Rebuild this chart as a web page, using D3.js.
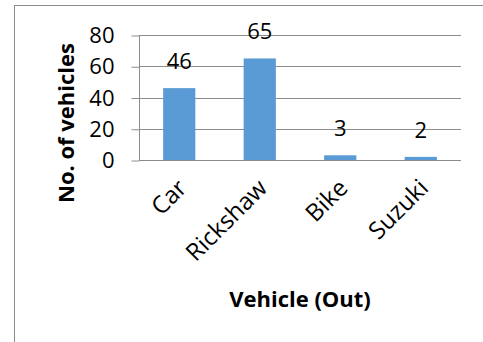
<!DOCTYPE html>
<html><head><meta charset="utf-8">
<script src="https://cdn.jsdelivr.net/npm/d3@7"></script>
<style>body{margin:0;background:#fff}svg{display:block}text{font-family:"Open Sans",sans-serif;fill:#000}</style>
</head><body><svg id="c" width="483" height="342"></svg>
<script>
const categories = ["Car", "Rickshaw", "Bike", "Suzuki"];
const values = [46, 65, 3, 2];
const yTicks = [0, 20, 40, 60, 80];
const yTitle = "No. of vehicles";
const xTitle = "Vehicle (Out)";

const svg = d3.select("#c");
svg.append("rect").attr("x", 14.5).attr("y", 5.5).attr("width", 600).attr("height", 600)
  .attr("fill", "#fff").attr("stroke", "#8c8c8c").attr("stroke-width", 1);

const L = 139, R = 461, T = 35, B = 160;
const FS = 22;
const x = d3.scaleBand().domain(categories).range([L, R]).paddingInner(0.6).paddingOuter(0.3);
const y = d3.scaleLinear().domain([0, 80]).range([B, T]);

// gridlines
svg.append("g").selectAll("line").data(yTicks.filter(d => d > 0)).join("line")
  .attr("x1", L).attr("x2", R).attr("y1", d => Math.round(y(d)) + 0.5).attr("y2", d => Math.round(y(d)) + 0.5)
  .attr("stroke", "#8c8c8c").attr("stroke-width", 1);

// y axis
const ya = svg.append("g").attr("transform", `translate(${L + 0.5},0)`)
  .call(d3.axisLeft(y).tickValues(yTicks).tickSize(8).tickPadding(17).tickFormat(d3.format("d")));
ya.selectAll("path,line").attr("stroke", "#8c8c8c");
ya.select(".domain").attr("d", `M0,${T}V${B}`);
ya.selectAll(".tick line").attr("transform", "translate(0,0.5)");
ya.selectAll("text").attr("font-size", FS).attr("font-family", "Open Sans").attr("fill", "#000").attr("dy", "0.35em");

// bars
svg.append("g").selectAll("rect").data(values).join("rect")
  .attr("x", (d, i) => x(categories[i])).attr("width", x.bandwidth())
  .attr("y", d => y(d)).attr("height", d => y(0) - y(d)).attr("fill", "#5b9bd5");

// x axis
const xa = svg.append("g").attr("transform", `translate(0,${B + 0.5})`)
  .call(d3.axisBottom(x).tickSize(0).tickPadding(0));
xa.select(".domain").attr("stroke", "#8c8c8c").attr("d", `M${L},0H${R}`);
xa.selectAll("text").attr("font-size", 24).attr("font-family", "Open Sans").attr("fill", "#000")
  .attr("text-anchor", "end").attr("dy", 0)
  .attr("transform", "translate(9,29) rotate(-45)");

// data labels
svg.append("g").selectAll("text").data(values).join("text")
  .attr("x", (d, i) => x(categories[i]) + x.bandwidth() / 2)
  .attr("y", d => y(d) - 19).attr("text-anchor", "middle").attr("font-size", FS).text(d => d);

// titles
svg.append("text").attr("transform", `translate(74,${123}) rotate(-90)`).attr("text-anchor", "middle")
  .attr("font-size", 22).attr("font-weight", "bold").text(yTitle);
svg.append("text").attr("x", 300).attr("y", 307).attr("text-anchor", "middle")
  .attr("font-size", 22).attr("font-weight", "bold").text(xTitle);
</script></body></html>
